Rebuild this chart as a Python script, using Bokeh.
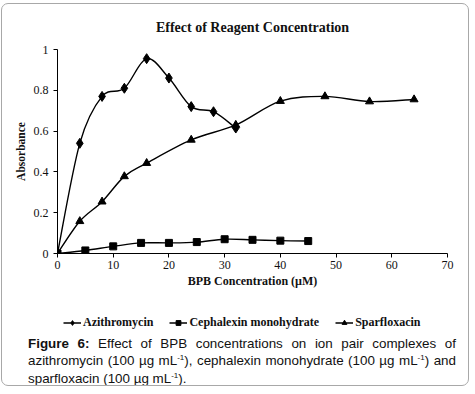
import numpy as np
from bokeh.plotting import figure
from bokeh.layouts import column
from bokeh.models import (Range1d, FixedTicker, Legend, LegendItem, CustomJSTickFormatter, Div)
from bokeh.embed import file_html
from bokeh.resources import INLINE

# ---- data ----
azi_x = [0, 4, 8, 12, 16, 20, 24, 28, 32]
azi_y = [0, 0.54, 0.77, 0.81, 0.955, 0.86, 0.72, 0.695, 0.615]
cep_x = [0, 5, 10, 15, 20, 25, 30, 35, 40, 45]
cep_y = [0, 0.015, 0.035, 0.052, 0.052, 0.056, 0.07, 0.067, 0.063, 0.061]
spa_x = [0, 4, 8, 12, 16, 24, 32, 40, 48, 56, 64]
spa_y = [0, 0.158, 0.254, 0.378, 0.443, 0.557, 0.63, 0.747, 0.77, 0.745, 0.755]
series_names = ["Azithromycin", "Cephalexin monohydrate", "Sparfloxacin"]
x_ticks = [0, 10, 20, 30, 40, 50, 60, 70]
y_ticks = [0, 0.2, 0.4, 0.6, 0.8, 1]
title_text = "Effect of Reagent Concentration"
x_label = "BPB Concentration (\u00b5M)"
y_label = "Absorbance"
caption_lines = [
    "<b>Figure 6:</b> Effect of BPB concentrations on ion pair complexes of",
    "azithromycin (100 \u00b5g mL<sup>-1</sup>), cephalexin monohydrate (100 \u00b5g mL<sup>-1</sup>) and",
    "sparfloxacin (100 \u00b5g mL<sup>-1</sup>).",
]


def smooth_segments(xs, ys):
    """Cardinal-spline control points (like a spreadsheet 'smoothed line')."""
    x = np.asarray(xs, float)
    y = np.asarray(ys, float)
    n = len(x)
    xp = np.concatenate([[x[0]], x, [x[-1]]])
    yp = np.concatenate([[y[0]], y, [y[-1]]])
    cx0 = x[:-1] + (xp[2:n + 1] - xp[0:n - 1]) / 6.0
    cy0 = y[:-1] + (yp[2:n + 1] - yp[0:n - 1]) / 6.0
    cx1 = x[1:] - (xp[3:n + 2] - xp[1:n]) / 6.0
    cy1 = y[1:] - (yp[3:n + 2] - yp[1:n]) / 6.0
    return dict(x0=x[:-1], y0=y[:-1], x1=x[1:], y1=y[1:], cx0=cx0, cy0=cy0, cx1=cx1, cy1=cy1)


W = 470
series = [(azi_x, azi_y, "diamond", 10), (cep_x, cep_y, "square", 7), (spa_x, spa_y, "triangle", 8)]

# ---------------- main chart ----------------
p = figure(width=W, height=309, x_range=Range1d(0, 70), y_range=Range1d(0, 1),
           output_backend="svg", toolbar_location=None, title=title_text,
           min_border_left=56, min_border_right=24, min_border_top=47, min_border_bottom=58,
           border_fill_color=None, background_fill_color=None)
p.outline_line_color = None
p.grid.visible = False

p.title.align = "center"
p.title.text_font = "Liberation Serif"
p.title.text_font_style = "bold"
p.title.text_font_size = "14px"
p.title.text_color = "#111111"
p.title.standoff = 30

for ax in (p.xaxis[0], p.yaxis[0]):
    ax.axis_line_color = "#000000"
    ax.axis_line_width = 1
    ax.major_tick_line_color = "#000000"
    ax.major_tick_out = 4
    ax.major_tick_in = 0
    ax.minor_tick_line_color = None
    ax.major_label_text_font = "Liberation Serif"
    ax.major_label_text_font_size = "12px"
    ax.major_label_text_color = "#111111"
    ax.axis_label_text_font = "Liberation Serif"
    ax.axis_label_text_font_style = "bold"
    ax.axis_label_text_color = "#111111"
p.xaxis.ticker = FixedTicker(ticks=x_ticks)
p.yaxis.ticker = FixedTicker(ticks=y_ticks)
p.yaxis.formatter = CustomJSTickFormatter(code="return String(Math.round(tick * 10) / 10);")
p.xaxis.major_label_standoff = 3
p.yaxis.major_label_standoff = 5
p.xaxis.axis_label = x_label
p.xaxis.axis_label_text_font_size = "12px"
p.xaxis.axis_label_standoff = 2
p.yaxis.axis_label = y_label
p.yaxis.axis_label_text_font_size = "11.5px"
p.yaxis.axis_label_standoff = 4

lw = 1.4
for xs, ys, _, _ in series:
    p.bezier(source=smooth_segments(xs, ys), x0="x0", y0="y0", x1="x1", y1="y1",
             cx0="cx0", cy0="cy0", cx1="cx1", cy1="cy1", line_color="black", line_width=lw)
for xs, ys, mk, sz in series:
    p.scatter(xs, ys, marker=mk, size=sz, color="black")

# ---------------- legend strip (same series, key only) ----------------
lg = figure(width=W, height=22, x_range=Range1d(1000, 1001), y_range=Range1d(1000, 1001),
            output_backend="svg", toolbar_location=None, x_axis_type=None, y_axis_type=None,
            min_border=0, border_fill_color=None, background_fill_color=None)
lg.outline_line_color = None
items = []
for name, (xs, ys, mk, sz) in zip(series_names, series):
    r_line = lg.line(xs, ys, line_color="black", line_width=lw)
    r_mark = lg.scatter(xs, ys, marker=mk, size=sz, color="black")
    items.append(LegendItem(label=name, renderers=[r_line, r_mark]))
lg.add_layout(Legend(items=items, location="left", orientation="horizontal",
                     glyph_width=18, glyph_height=12, label_height=12,
                     label_standoff=2, spacing=16, padding=0, margin=6,
                     border_line_color=None, background_fill_alpha=0,
                     label_text_font="Liberation Serif", label_text_font_style="bold",
                     label_text_font_size="12px", label_text_color="#111111"))

# ---------------- caption (and the rounded frame around the whole figure) ----------------
just_css = "text-align:justify;text-align-last:justify;"
frame_box = ('<div style="position:fixed;left:1px;top:3px;width:468px;height:383px;'
             'border:1px solid #a8a8a8;border-radius:7px;pointer-events:none;'
             'background:transparent;z-index:10;"></div>')
caption_html = (
    frame_box
    + '<div style="margin-left:22px;margin-top:-3px;width:428px;'
    'font-family:\'Liberation Sans\',Arial,sans-serif;'
    'font-size:13.4px;line-height:17.3px;color:#111111;">'
    + "".join('<div style="%s">%s</div>' % (just_css if i < 2 else "", t)
              for i, t in enumerate(caption_lines))
    + "</div>"
).replace("<sup>", '<sup style="font-size:8px;line-height:0;">')
cap = Div(text=caption_html, width=W, height=55)

layout = column(p, lg, cap, spacing=0, styles={"margin-left": "1px", "margin-top": "2px"})

open("out.html", "w").write(file_html(layout, INLINE))
